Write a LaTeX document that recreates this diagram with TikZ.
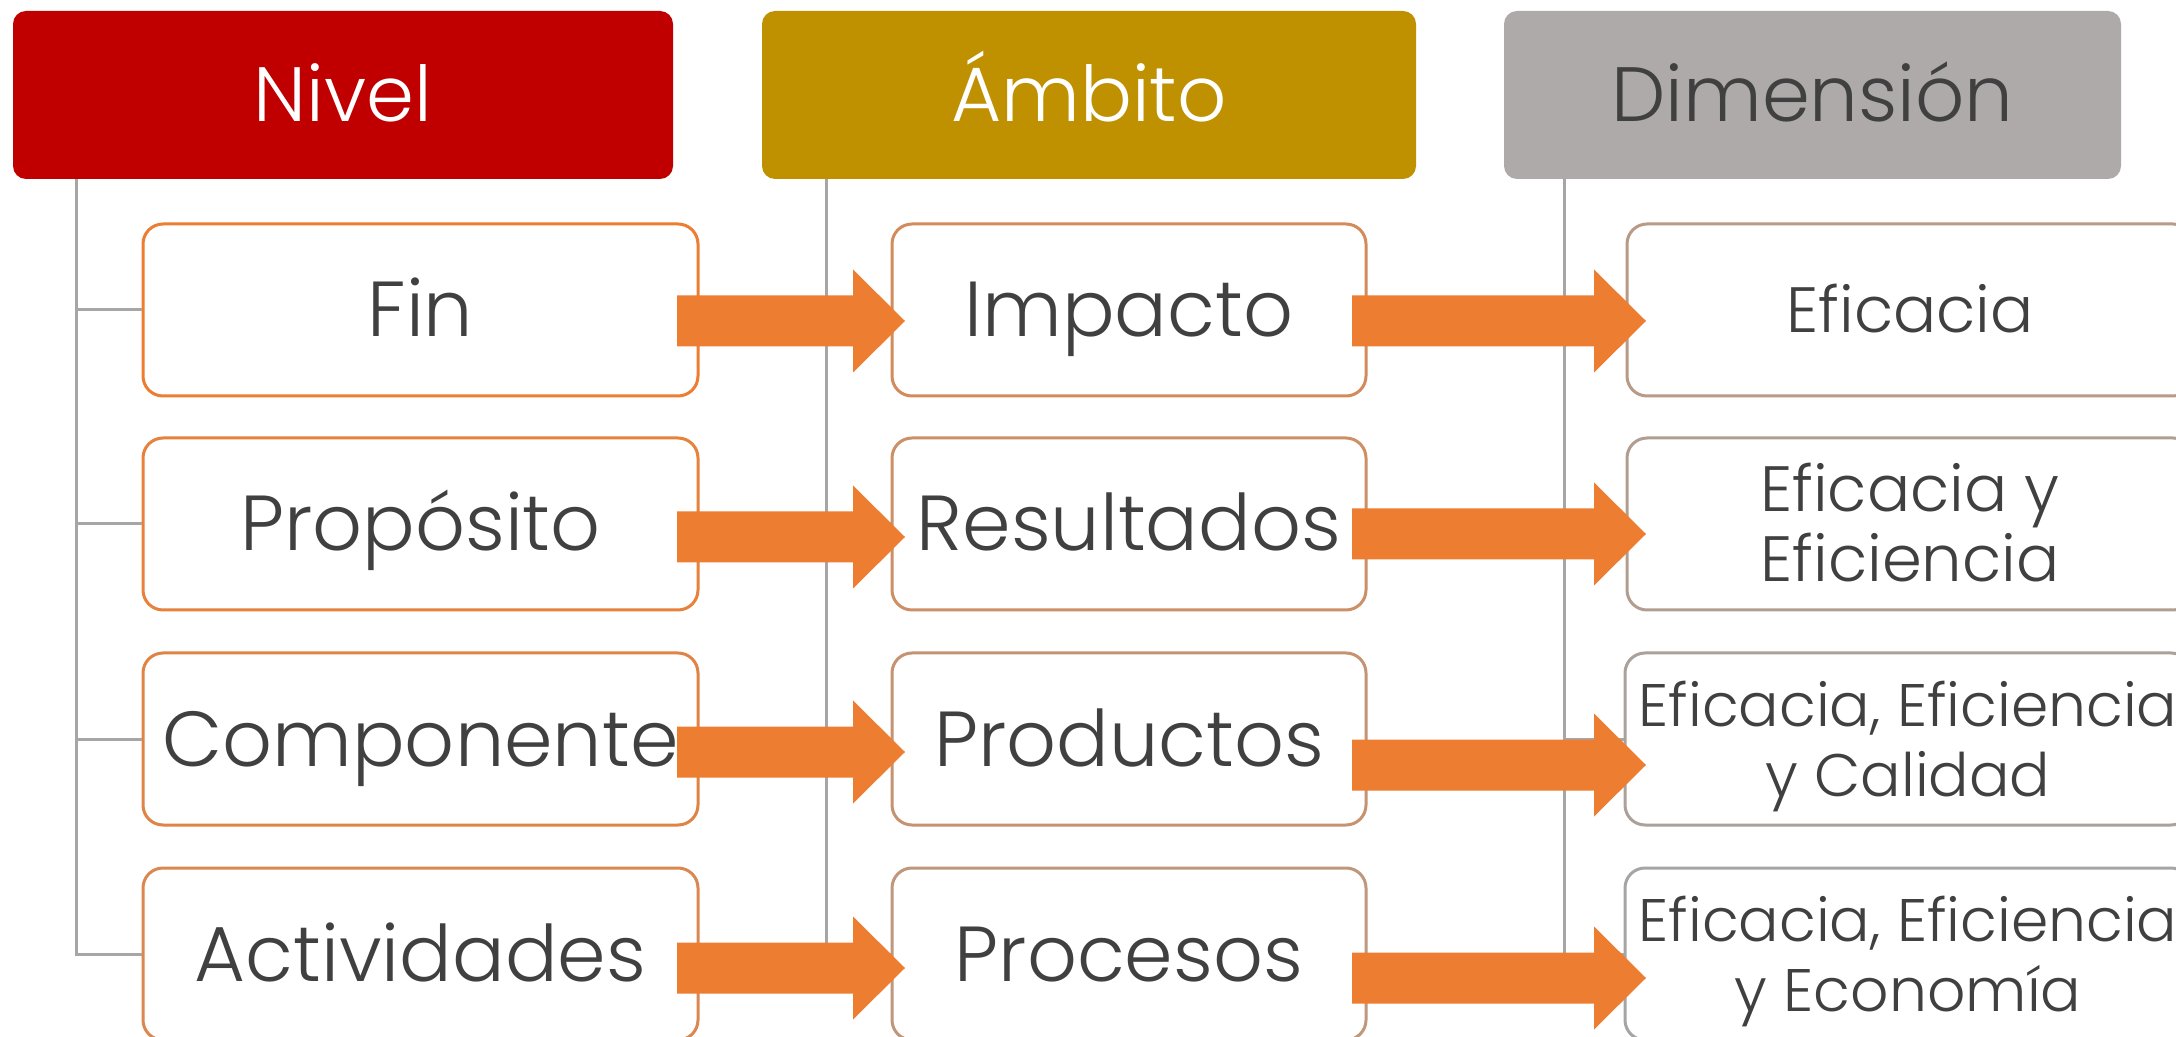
\documentclass[tikz,border=0pt]{standalone}
\usepackage{fontspec}
\setmainfont{Poppins}[UprightFont=* Light]

\definecolor{rojo}{HTML}{C00000}
\definecolor{ocre}{HTML}{BF9000}
\definecolor{gris}{HTML}{AEAAAA}
\definecolor{naranja}{HTML}{ED7D31}
\definecolor{grisb}{HTML}{A5A5A5}
\definecolor{texto}{HTML}{404040}
\definecolor{linea}{HTML}{A6A6A6}

\tikzset{
  titulo/.style={rounded corners=6.5pt, minimum width=#1, minimum height=84pt,
    inner sep=0pt, text height=27pt, text depth=0pt, font=\fontsize{38.5}{42}\selectfont},
  caja/.style={draw=#1, line width=1.5pt, rounded corners=10pt, fill=white,
    minimum height=86pt, inner sep=0pt, text=texto, align=center},
  grande/.style={font=\fontsize{39}{43}\selectfont, text height=27pt, text depth=0pt},
  chica/.style={font=\fontsize{32}{35}\selectfont, text height=22.5pt, text depth=0pt},
  doble/.style={text height=57.5pt, text depth=0pt},
  rama/.style={draw=linea, line width=1.5pt},
}

% flecha de bloque: x inicio, y centro, x punta
\newcommand{\flecha}[3]{%
  \fill[naranja] (#1,#2-25.5) -- (#3-52,#2-25.5) -- (#3-52,#2-51.5) -- (#3,#2)
    -- (#3-52,#2+51.5) -- (#3-52,#2+25.5) -- (#1,#2+25.5) -- cycle;}

\begin{document}
\begin{tikzpicture}[x=0.5pt,y=-0.5pt]
\useasboundingbox (0,0) rectangle (2176,1037);

% encabezados
\node[titulo=330pt, fill=rojo, text=white] (nivel) at (343,95) {Nivel};
\node[titulo=327pt, fill=ocre, text=white] (ambito) at (1089,95) {Ámbito};
\node[titulo=308.5pt, fill=gris, text=texto] (dimension) at (1812.5,95) {Dimensión};

% nivel
\node[caja=naranja, grande, minimum width=277.5pt] (fin) at (420.5,310) {Fin};
\node[caja=naranja!91!grisb, grande, minimum width=277.5pt] (proposito) at (420.5,524) {Propósito};
\node[caja=naranja!82!grisb, grande, minimum width=277.5pt] (componente) at (420.5,739) {Componente};
\node[caja=naranja!73!grisb, grande, minimum width=277.5pt] (actividades) at (420.5,954) {Actividades};

% ambito
\node[caja=naranja!64!grisb, grande, minimum width=237pt] (impacto) at (1129,310) {Impacto};
\node[caja=naranja!55!grisb, grande, minimum width=237pt] (resultados) at (1129,524) {Resultados};
\node[caja=naranja!45!grisb, grande, minimum width=237pt] (productos) at (1129,739) {Productos};
\node[caja=naranja!36!grisb, grande, minimum width=237pt] (procesos) at (1129,954) {Procesos};

% dimension
\node[caja=naranja!27!grisb, chica, minimum width=283pt] (eficacia) at (1910,310) {Eficacia};
\node[caja=naranja!18!grisb, chica, doble, minimum width=283pt] (eficiencia) at (1910,524) {Eficacia y\\Eficiencia};
\node[caja=naranja!9!grisb, chica, doble, font=\fontsize{30}{35}\selectfont, minimum width=283pt] (calidad) at (1908,739) {Eficacia, Eficiencia\\y Calidad};
\node[caja=grisb, chica, doble, font=\fontsize{30}{35}\selectfont, minimum width=283pt] (economia) at (1908,954) {Eficacia, Eficiencia\\y Economía};

% lineas del arbol
\coordinate (tn) at ([xshift=32pt]nivel.south west);
\coordinate (ta) at ([xshift=32.5pt]ambito.south west);
\coordinate (td) at ([xshift=30.5pt]dimension.south west);
\draw[rama] (tn) |- (actividades.west);
\draw[rama] (ta) |- (procesos.west);
\draw[rama] (td) |- (economia.west);
\foreach \n in {fin,proposito,componente} \draw[rama] (tn |- \n.west) -- (\n.west);
\foreach \n in {impacto,resultados,productos} \draw[rama] (ta |- \n.west) -- (\n.west);
\foreach \n in {eficacia,eficiencia,calidad} \draw[rama] (td |- \n.west) -- (\n.west);

% flechas
\flecha{677}{321}{905}
\flecha{677}{537}{905}
\flecha{677}{752}{905}
\flecha{677}{968}{905}
\flecha{1352}{321}{1646}
\flecha{1352}{534}{1646}
\flecha{1352}{765}{1646}
\flecha{1352}{978}{1646}
\end{tikzpicture}
\end{document}
